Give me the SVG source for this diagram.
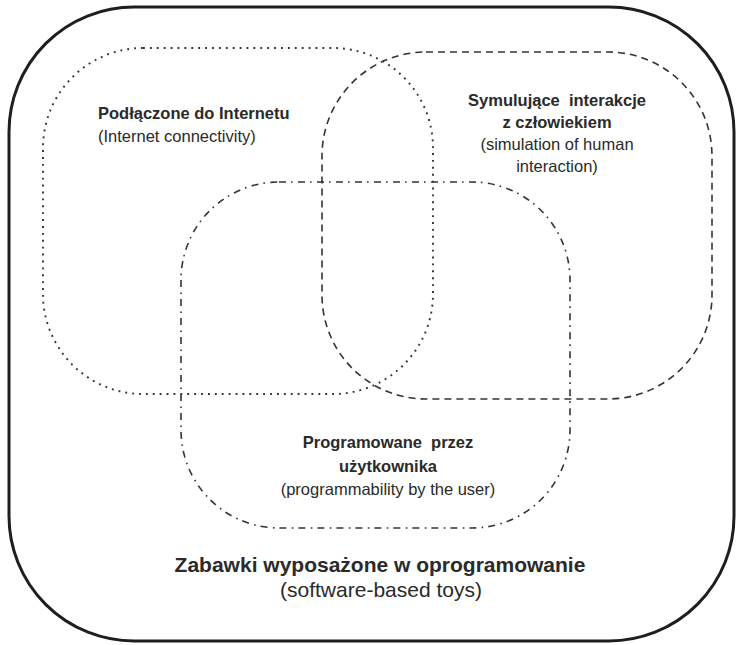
<svg xmlns="http://www.w3.org/2000/svg" width="737" height="645" viewBox="0 0 737 645">
<style>
.bg{fill:#ffffff}
.outer{fill:none;stroke:#1e1e1e;stroke-width:3}
.set{fill:none;stroke:#333333;stroke-width:1.6}
.dot{stroke-width:1.9;stroke-dasharray:1.9 5}
.dash{stroke-dasharray:7 5}
.dashdot{stroke-dasharray:7 5 1.6 5.4}
text{font-family:"Liberation Sans",Arial,sans-serif;fill:#2a2a2a;white-space:pre}
.b{font-weight:bold;font-size:16.5px}
.r{font-size:16.5px}
.bb{font-weight:bold;font-size:21px}
.rb{font-size:21px}
.c{text-anchor:middle}
</style>
<rect class="bg" x="0" y="0" width="737" height="645"/>
<g id="software-based-toys">
<rect class="outer" x="9" y="7" width="725" height="634" rx="125" ry="125"/>
<text class="bb c" x="380" y="572">Zabawki wyposażone w oprogramowanie</text>
<text class="rb c" x="381" y="597">(software-based toys)</text>
</g>
<g id="internet-connectivity">
<rect class="set dot" x="43" y="48" width="390" height="346" rx="100" ry="100"/>
<text class="b" x="98" y="119">Podłączone do Internetu</text>
<text class="r" x="98" y="142">(Internet connectivity)</text>
</g>
<g id="human-interaction">
<rect class="set dash" x="322" y="52" width="390" height="347" rx="104" ry="104"/>
<text class="b c" x="557" y="106">Symulujące  interakcje</text>
<text class="b c" x="557" y="128">z człowiekiem</text>
<text class="r c" x="557" y="150">(simulation of human</text>
<text class="r c" x="557" y="172">interaction)</text>
</g>
<g id="programmability">
<rect class="set dashdot" x="181" y="182" width="389" height="346" rx="98" ry="98"/>
<text class="b c" x="388" y="448">Programowane  przez</text>
<text class="b c" x="388" y="472">użytkownika</text>
<text class="r c" x="388" y="495">(programmability by the user)</text>
</g>
<g id="connectors"/>
</svg>
